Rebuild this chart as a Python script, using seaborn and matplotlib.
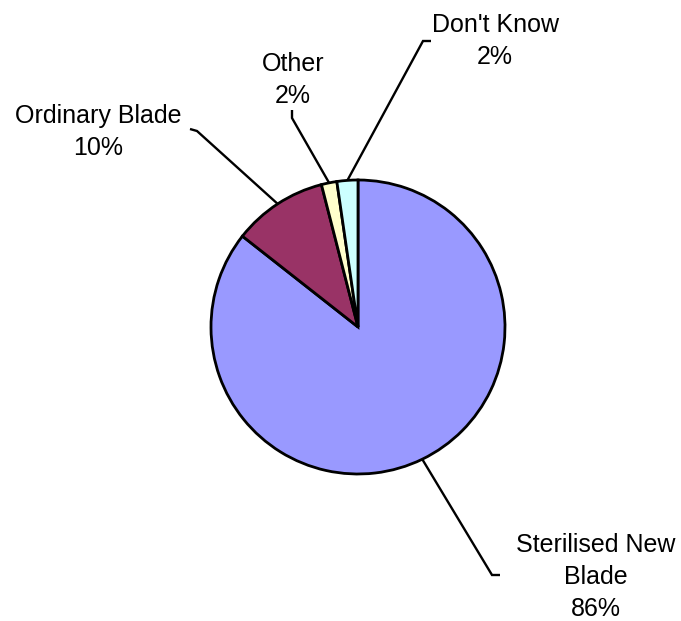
import matplotlib
matplotlib.use("Agg")
import matplotlib.pyplot as plt
import seaborn as sns
import numpy as np

# === Data ===
categories = ["Sterilised New Blade", "Ordinary Blade", "Other", "Don't Know"]
label_text = ["Sterilised New\nBlade", "Ordinary Blade", "Other", "Don't Know"]
shares = [85.6, 10.4, 1.7, 2.3]
colors = ["#9999FF", "#993366", "#FFFFCC", "#CCFFFF"]

# === Style ===
sns.set_style("white")
plt.rcParams["font.family"] = ["Liberation Sans", "DejaVu Sans"]

W, H = 681, 621
fig = plt.figure(figsize=(W / 100, H / 100), dpi=100)
ax = fig.add_axes([0, 0, 1, 1])


def px(x, y):
    # reference pixel coords (y down) -> axes data coords (y up)
    return x, H - y


cx, cy = px(358, 327)
radius = 147

wedges, _ = ax.pie(
    shares,
    colors=colors,
    startangle=90,
    counterclock=False,
    center=(cx, cy),
    radius=radius,
    wedgeprops=dict(edgecolor="black", linewidth=2.0),
    frame=True,
)
ax.set_xlim(0, W)
ax.set_ylim(0, H)
ax.set_aspect("equal")
ax.axis("off")

# label layout: (elbow point, end point, text centre) in reference pixels
layout = [
    ((492, 575), (500, 575), (596, 577)),
    ((197, 131), (190, 129), (98, 132)),
    ((292, 118), (292, 110), (293, 80)),
    ((423, 41), (431, 41), (495, 41)),
]

for wedge, name, val, (elbow, end, tpos) in zip(wedges, label_text, shares, layout):
    mid = np.deg2rad((wedge.theta1 + wedge.theta2) / 2)
    ax_x = cx + radius * np.cos(mid)
    ax_y = cy + radius * np.sin(mid)
    ex, ey = px(*elbow)
    nx, ny = px(*end)
    ax.plot([ax_x, ex, nx], [ax_y, ey, ny], color="black", lw=1.7,
            solid_capstyle="butt", solid_joinstyle="miter")
    tx, ty = px(*tpos)
    ax.text(tx, ty, f"{name}\n{val:.0f}%", ha="center", va="center",
            fontsize=18, linespacing=1.4, color="black")

fig.savefig("out.png", dpi=100, facecolor="white")
